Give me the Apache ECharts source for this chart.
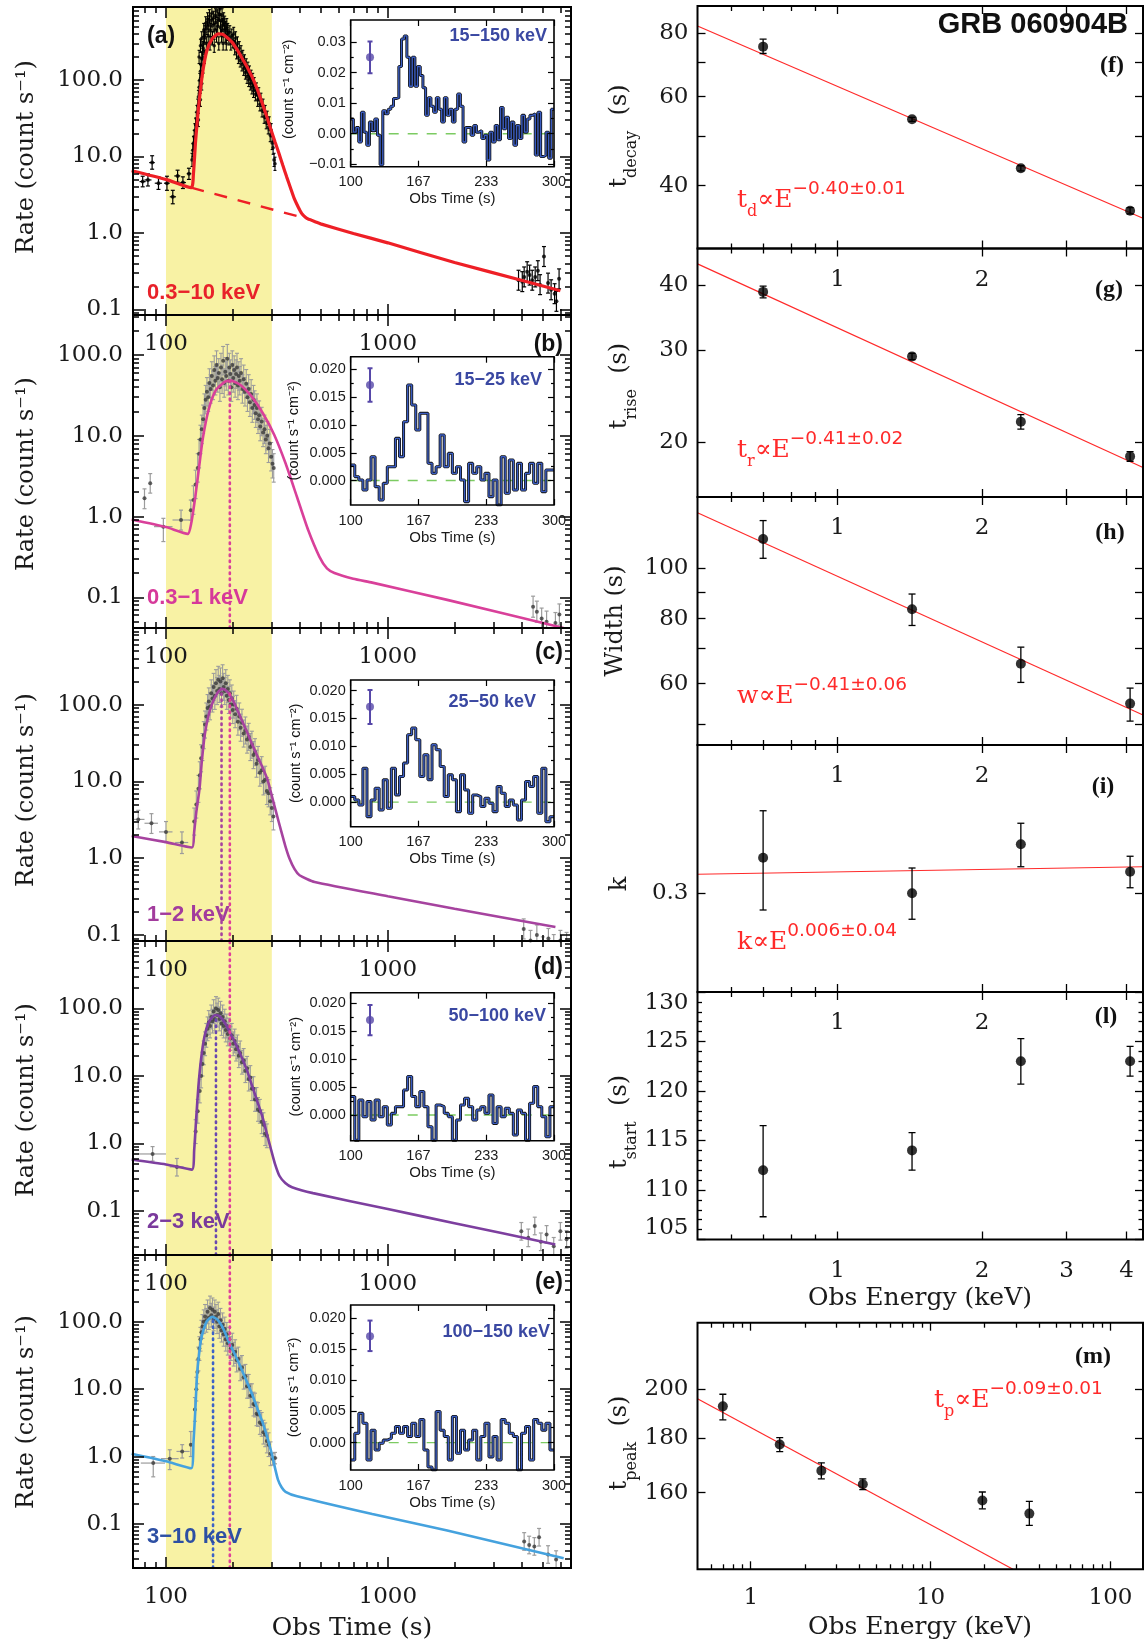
<!DOCTYPE html>
<html><head><meta charset="utf-8">
<script src="https://cdn.jsdelivr.net/npm/echarts@6/dist/echarts.min.js"></script>
<style>html,body{margin:0;padding:0;background:#fff}#c{width:1146px;height:1644px}</style>
</head><body><div id="c"></div>
<script>
// ================= DATA =================
const SHADE_RANGE = [100, 300];
const TIME_TICKS = [100, 1000];
const RATE_TICKS = [0.1, 1, 10, 100];
const PEAK_REF = 194;                 // 0.3-1 keV peak time (dotted magenta)
const PEAK_C = 178, PEAK_D = 168, PEAK_E = 163;

// panel (a) 0.3-10 keV
const A_MODEL = [[70,6.5],[100,5.0],[130,3.9],[133,6],[136,16],[140,42],[146,120],[153,245],[162,350],[172,400],[180,395],[186,370],[198,315],[210,245],[222,185],[236,135],[250,95],[265,61],[282,36],[298,22],[310,15.5],[323,11],[336,7.7],[350,5.4],[364,3.9],[378,2.85],[394,2.2],[409,1.8],[425,1.6],[442,1.5],[470,1.4],[498,1.31],[700,0.98],[1000,0.74],[2000,0.41],[4000,0.24],[6000,0.175]];
const A_DASH = [[130,3.9],[454,1.47]];
const A_BINNED = [[78.5,4.68,4.0,5.5,76,81],[82.9,4.92,4.1,5.9,80,86],[86.6,8.3,6.8,10.2,84,89],[92.5,4.46,3.7,5.4,89,96],[101,4.46,3.6,5.5,98,104],[107.3,2.96,2.4,3.6,104,111],[112.8,5.55,4.6,6.6,109,116],[119.2,4.55,3.8,5.4,116,123],[126.9,5.94,5.0,7.0,124,130]];
const A_CLOUD = [[131,9],[132,12],[133,15],[134,18],[135,22],[136,26],[137,31],[138,38],[139,46],[140,60],[140,30],[141,80],[141,200],[142,100],[143,130],[143,55],[143,280],[144,160],[145,190],[145,90],[145,350],[146,230],[147,260],[147,150],[148,300],[148,450],[149,200],[149,380],
[150,420],[151,550],[152,300],[153,480],[154,620],[155,380],[156,520],[157,680],[158,300],[159,450],[160,600],[161,750],[162,350],[163,520],[164,650],[165,280],[166,450],[167,700],[168,560],[169,380],[170,800],[171,500],[172,620],[173,300],[174,720],[175,850],[176,480],[177,600],[178,380],[179,700],[180,520],[181,300],[182,620],[183,450],[184,560],[185,380],[186,480],[187,300],[188,520],[189,400],[190,450],[192,350],[194,420],[196,300],[198,380],
[200,320],[202,400],[204,260],[206,350],[208,230],[210,300],[212,200],[214,260],[216,180],[218,230],[220,160],[222,200],[224,140],[226,175],[228,125],[230,155],[232,110],[234,140],[236,100],[238,125],[240,90],[242,110],[244,80],[246,100],[248,72],[250,88],[253,65],[256,75],[259,55],[262,65],[265,48],[268,55],[271,40],[274,46],[277,33],[280,38],[283,28],[286,32],[289,24],[292,27],[295,19],[298,22],[301,15],[304,13],[307,9],[310,8]];
const A_LATE = [[3886,0.24],[4040,0.23],[4120,0.265],[4250,0.31],[4360,0.28],[4480,0.24],[4620,0.265],[4750,0.32],[4860,0.21],[5060,0.49],[5280,0.22],[5450,0.18],[5650,0.16],[5760,0.127],[5920,0.25]];

// panel (b) 0.3-1 keV
const B_MODEL = [[70,0.92],[100,0.74],[125.4,0.61],[130,0.83],[135.6,1.77],[141,4.1],[146.6,9.3],[155.5,20.8],[168,36.9],[185,46.8],[196,48.1],[216.5,42.5],[243.5,30.5],[273.4,19.0],[307.5,10.3],[346,4.56],[389,1.77],[437.6,0.68],[492,0.317],[531.7,0.228],[574.6,0.20],[698.4,0.17],[851,0.152],[1854,0.093],[6200,0.0417]];
const B_BINNED = [[80,1.68,1.25,2.2],[84.9,2.58,1.95,3.4],[97.3,0.75,0.49,0.95,88.3,107],[116.9,0.906,0.68,1.2,107,127.8],[129.4,1.2,0.9,1.6]];
const B_CLOUD = [[133,1.6],[136,2.5],[139,4],[141,6],[143,9],[145,12],[147,16],[149,22],[151,28],[153,35],[155,30],[157,45],[159,38],[161,55],[163,42],[165,65],[167,48],[169,75],[171,52],[173,60],[175,40],[177,70],[179,50],[181,85],[183,45],[185,62],[187,55],[189,90],[191,48],[193,70],[195,58],[197,40],[199,75],[201,52],[203,65],[205,45],[207,58],[209,70],[211,42],[213,55],[215,48],[218,60],[221,38],[224,50],[227,35],[230,44],[233,30],[236,38],[239,26],[242,33],[245,22],[248,28],[251,24],[254,19],[257,22],[260,16],[263,18],[266,13],[270,15],[274,11],[278,12],[282,9],[286,10],[290,7],[294,8],[298,5.5],[302,4.5],[306,4]];
const B_LATE = [[4520,0.0765],[4700,0.0664],[4940,0.0545],[5200,0.05],[5700,0.048],[5940,0.0613]];

// panel (c) 1-2 keV
const C_MODEL = [[70,1.94],[100,1.62],[131,1.38],[134,2.2],[137,4],[141.6,8],[145,18],[149.5,40],[155,70],[161,100],[167,128],[173,150],[180,160],[188,150],[197,125],[207,93],[220,62],[232,44],[244,30.8],[260,20.5],[275,14.3],[287,10.5],[300,6.5],[315,3.8],[330,2.3],[345,1.45],[360,1.0],[380,0.72],[400,0.6],[468,0.49],[1000,0.32],[2000,0.22],[5700,0.127]];
const C_BINNED = [[75,3.2,2.4,4.2,70,80],[86,2.85,2.1,3.8,80,92],[100,2.2,1.6,3.0,93,107],[118,1.6,1.15,2.2,110,126]];
const C_CLOUD = [[134,3],[137,5],[140,8],[142,12],[144,20],[146,28],[148,40],[150,55],[152,70],[154,90],[156,110],[158,95],[160,140],[162,120],[164,170],[166,130],[168,190],[170,150],[172,210],[174,160],[176,200],[178,140],[180,220],[182,170],[184,150],[186,190],[188,130],[190,160],[192,115],[194,140],[196,100],[198,120],[200,85],[202,100],[205,75],[208,88],[211,60],[214,70],[217,50],[220,58],[224,42],[228,46],[232,35],[236,38],[240,28],[244,30],[248,22],[252,24],[256,17],[260,19],[265,13],[270,14],[275,10],[280,10.5],[285,7.5],[290,7],[295,5.5],[300,4.5],[305,3.5]];
const C_LATE = [[4100,0.12],[4400,0.085],[4700,0.1],[5000,0.07],[5300,0.09],[5600,0.075],[6000,0.085],[6400,0.08]];

// panel (d) 2-3 keV
const D_MODEL = [[70,0.58],[100,0.49],[131,0.41],[134,0.8],[137,2.5],[140,7],[144,18],[149,38],[155,60],[162,75],[168.5,80],[175,76],[185,60],[195,43],[205,31],[218,20],[232,12],[245,7],[258,4.2],[272,2.5],[285,1.4],[298,0.8],[310,0.5],[325,0.33],[345,0.26],[370,0.225],[460,0.184],[1000,0.107],[2000,0.066],[5690,0.032]];
const D_BINNED = [[87,0.7,0.55,0.9,75,100],[112,0.45,0.33,0.6,104,120]];
const D_CLOUD = [[136,1.5],[139,3],[142,6],[144,10],[146,15],[148,22],[150,30],[152,40],[154,50],[156,62],[158,55],[160,75],[162,65],[164,90],[166,70],[168,100],[170,80],[172,95],[174,70],[176,85],[178,60],[180,75],[182,55],[184,65],[186,48],[188,55],[190,42],[192,48],[195,36],[198,40],[201,30],[204,33],[207,25],[210,27],[213,20],[216,22],[220,16],[224,17],[228,12],[232,13],[236,9],[240,9.5],[244,6.5],[248,6.5],[252,4.5],[256,4.5],[260,3.2],[265,3],[270,2.1],[275,1.9],[280,1.4],[285,1.3]];
const D_LATE = [[4000,0.05],[4300,0.04],[4600,0.06],[4900,0.035],[5200,0.045],[5600,0.03],[6000,0.05],[6400,0.038]];

// panel (e) 3-10 keV
const E_MODEL = [[70,1.1],[100,0.85],[130,0.67],[133,1.6],[135.6,4.9],[138.2,17.2],[141,33],[143.7,53.5],[148,78],[152.4,100],[157,112],[161.6,118],[166,114],[171.4,106],[178,88],[185.3,67],[192,50],[200,38],[208,29],[216.5,21.6],[230,13.5],[243.5,8.7],[258,5.2],[273.4,3.1],[288,1.8],[302,1.0],[311,0.65],[320,0.45],[332,0.35],[346,0.30],[390,0.257],[851,0.14],[1854,0.08],[6210,0.031]];
const E_BINNED = [[87.6,0.8,0.5,1.0,77,99],[104,0.93,0.64,1.26,95,114],[118.3,1.19,0.95,1.5,111.5,127.8],[129.4,1.49,1.0,2.35],[303,0.92,0.75,1.12,296,312],[310,0.95,0.78,1.15,303,318]];
const E_CLOUD = [[135,5],[137,10],[138.5,18],[140,28],[141.5,40],[143,55],[144.5,70],[146,85],[148,100],[150,120],[152,105],[154,140],[156,115],[158,160],[160,125],[162,150],[164,110],[166,140],[168,120],[170,100],[172,130],[174,85],[176,105],[178,75],[180,90],[182,65],[184,78],[186,55],[188,65],[190,48],[193,55],[196,40],[199,45],[202,33],[205,36],[208,27],[212,28],[216,20],[220,21],[224,15],[228,15.5],[232,11],[236,11],[240,8],[244,8],[248,6],[252,5.8],[256,4.3],[260,4.2],[265,3.2],[270,3],[275,2.3],[280,2.1],[285,1.7],[290,1.5],[296,1.1]];
const E_LATE = [[4120,0.055],[4340,0.0487],[4580,0.0464],[4810,0.0635],[5280,0.0352],[5740,0.0296]];

// estimated fractional error bar sizes of the dense points
const ERR_A = 0.22, ERR_GRAY = 0.5, ERR_LATE = 0.35;

// BAT insets (count s^-1 cm^-2), bins between 100 and 300 s
const INSET_A = [0.0048,0.0005,0.002,-0.0027,0.007,0.0005,-0.0038,0.0038,0.001,0.0048,-0.0005,-0.0102,0.0075,0.0065,0.008,0.009,0.0115,0.0118,0.022,0.031,0.032,0.025,0.0155,0.025,0.0155,0.022,0.019,0.015,0.006,0.0118,0.009,0.007,0.0118,0.008,0.0038,0.0118,0.006,0.008,0.0038,0.008,0.013,0.009,-0.0027,0.002,0.002,-0.0005,0.0027,0.0005,0.001,-0.0016,-0.0005,-0.0086,0.0005,-0.0027,0.0027,-0.002,0.0086,0.0016,0.0054,-0.0016,0.0038,-0.0038,0.0027,-0.0016,0.006,0.0005,0.0048,0.006,0.0065,-0.007,0.007,-0.0075,-0.007,0.0005,-0.008,0.008];
const INSET_B = [0.0028,0.0007,0.0001,-0.0017,0.0001,0.0043,-0.0011,-0.0035,-0.0005,0.0025,0.0025,0.0076,0.0043,0.0106,0.0172,0.0136,0.0091,0.0121,0.0121,0.0031,0.0013,0.0025,0.0082,0.0025,0.0049,0.0013,0.0025,0.0001,-0.0038,0.0031,0.0013,0.0025,0.0001,0.0013,-0.0029,0.0001,-0.0044,0.0043,-0.0023,0.0037,-0.0017,0.0031,-0.0017,0.0013,0.0031,-0.0005,0.0031,-0.002,0.0019,0.0019];
const INSET_C = [0.001,0.0004,-0.0005,0.0061,-0.0026,0.0004,0.0025,-0.0014,0.004,-0.0011,0.0061,0.0013,0.0046,0.007,0.0121,0.0133,0.0112,0.0046,0.0085,0.004,0.0103,0.0094,0.0064,0.001,0.0049,0.004,-0.0017,0.0049,0.0022,-0.002,0.0013,0.001,-0.0008,0.0007,-0.0002,-0.0017,0.0028,0.0016,-0.0008,0.0004,-0.0005,-0.0032,0.0004,0.0037,0.0028,0.0046,-0.002,0.0061,-0.0035,-0.0026];
const INSET_D = [0.0033,-0.0045,0.0027,-0.0003,0.0024,-0.0009,0.0027,-0.0003,0.0015,-0.0018,0.0003,0.0015,0.0015,0.0045,0.0069,0.0033,0.0015,0.0042,0.0015,-0.0021,-0.0045,0.0018,0.0015,0.0003,-0.0003,-0.0045,-0.0009,0.0018,0.003,0.0015,-0.0009,0.0009,0.0015,0.0003,0.0036,-0.0015,0.0015,-0.0003,0.0012,0.0003,-0.0036,0.0009,0.0003,-0.0045,0.0021,0.0051,0.0015,-0.0003,-0.0039,0.0015];
const INSET_E = [-0.0028,0.0015,0.0047,0.0031,-0.0028,0.002,-0.0012,-0.0001,0.0004,0.0007,0.0015,0.0026,0.0015,0.0026,0.001,0.0031,0.001,0.0037,-0.0012,-0.0039,-0.0044,0.005,0.002,0.001,-0.0028,0.0042,-0.0017,0.002,-0.0012,0.0004,0.002,-0.0028,0.001,0.0031,-0.0023,0.001,-0.0028,0.0037,0.0031,0.0015,0.001,-0.0044,0.0015,0.0026,-0.0028,0.0037,0.0031,0.002,0.0031,-0.0012];
const INSET_ERRPT = [[119,0.025,0.0198,0.0302],[119,0.0172,0.0142,0.0202],[119,0.0171,0.014,0.0201],[119,0.017,0.0143,0.0197],[119,0.0171,0.0147,0.0196]];
const INSET_BANDS = ['15\u2212150 keV','15\u221225 keV','25\u221250 keV','50\u2212100 keV','100\u2212150 keV'];
const INSET_XTICKS = [100, 166.667, 233.333, 300];
const INSET_YTICKS_A = [-0.01, 0, 0.01, 0.02, 0.03];
const INSET_YTICKS = [0, 0.005, 0.01, 0.015, 0.02];

// right column: energy dependence
const E_XRT = [0.70, 1.43, 2.41, 4.07];
const T_DECAY = [75.3, 54.1, 43.3, 35.7], T_DECAY_LO = [73.0, 53.6, 42.8, 35.2], T_DECAY_HI = [77.9, 54.6, 43.8, 36.2];
const T_DECAY_FIT = [[0.511, 82.7], [4.33, 34.5]];
const T_RISE = [38.8, 29.2, 21.9, 18.8], T_RISE_LO = [37.8, 28.8, 21.2, 18.4], T_RISE_HI = [39.8, 29.6, 22.6, 19.2];
const T_RISE_FIT = [[0.511, 43.9], [4.33, 17.9]];
const WIDTH = [113.8, 83.4, 65.5, 54.9], WIDTH_LO = [104.5, 77.6, 60.3, 50.8], WIDTH_HI = [123.5, 89.2, 70.5, 58.8];
const WIDTH_FIT = [[0.511, 127.9], [4.33, 52.2]];
const K_IDX = [0.3142, 0.3, 0.3196, 0.3086], K_LO = [0.2933, 0.2896, 0.3106, 0.3022], K_HI = [0.333, 0.3101, 0.328, 0.3148];
const K_FIT = [[0.511, 0.3076], [4.33, 0.3106]];
const T_START = [112, 114, 123, 123], T_START_LO = [107.3, 112.0, 120.7, 121.5], T_START_HI = [116.5, 115.8, 125.3, 124.5];
const E_ALL = [0.70, 1.45, 2.47, 4.2, 19.4, 35.4];
const T_PEAK = [192.7, 177.5, 167.7, 162.9, 157.3, 152.9], T_PEAK_LO = [187.2, 174.8, 164.8, 161.0, 154.5, 149.1], T_PEAK_HI = [197.8, 180.1, 170.6, 164.8, 160.2, 157.0];
const T_PEAK_FIT = [[0.506, 195.9], [28.7, 135.6]];

// ================= STYLE / LAYOUT =================
const SERIF = 'DejaVu Serif', SANS = 'Liberation Sans';
const SHADE = '#f8f2a4', RED = '#ff2a2a';
const grids = [], xAxes = [], yAxes = [], series = [], texts = [];

function logMinors(min, max) {
  const out = [];
  for (let e = -3; e <= 4; e++) for (let k = 2; k <= 9; k++) {
    const v = +(k * Math.pow(10, e)).toPrecision(6);
    if (v > min && v < max) out.push(v);
  }
  return out;
}
function addGrid(l, t, w, h, bw) {
  grids.push({left: l, top: t, width: w, height: h, show: true, borderColor: '#000', borderWidth: bw,
    backgroundColor: 'transparent', z: 10, containLabel: false});
  return grids.length - 1;
}
function axes(dim, gi, o) {
  const list = dim === 'x' ? xAxes : yAxes;
  const sides = dim === 'x' ? ['bottom', 'top'] : ['left', 'right'];
  const idx = list.length;
  const mk = (side, ticks, len, lab) => {
    const a = {
      gridIndex: gi, type: o.type, min: o.min, max: o.max, position: side, z: 11, silent: true,
      axisLine: {show: false, onZero: false}, splitLine: {show: false},
      minorTick: {show: false}, minorSplitLine: {show: false},
      axisTick: {show: ticks.length > 0, inside: true, length: len, customValues: ticks.length ? ticks : undefined,
        lineStyle: {color: '#000', width: o.tw || 1.4}},
      axisLabel: {show: false}
    };
    if (o.type === 'log') a.logBase = 10;
    if (lab) {
      a.axisLabel = {show: true, customValues: lab, formatter: o.fmt, margin: o.margin,
        fontFamily: o.font, fontSize: o.fs, fontWeight: o.fw || 'normal', color: o.color || '#1a1a1a'};
      if (o.edgeAlign) { a.axisLabel.verticalAlignMinLabel = 'bottom'; a.axisLabel.verticalAlignMaxLabel = 'top'; }
      if (o.name) {
        a.name = o.name; a.nameLocation = 'middle'; a.nameGap = o.nameGap;
        a.nameTextStyle = {fontFamily: o.font, fontSize: o.nameFs, color: '#1a1a1a'};
      }
    }
    return a;
  };
  list.push(mk(sides[0], o.major, o.majLen, o.labels));
  list.push(mk(sides[1], o.major, o.majLen, null));
  if (o.minor && o.minor.length) {
    list.push(mk(sides[0], o.minor, o.minLen, null));
    list.push(mk(sides[1], o.minor, o.minLen, null));
  }
  return idx;
}
function lineS(xi, yi, data, color, width, z, extra) {
  series.push(Object.assign({type: 'line', xAxisIndex: xi, yAxisIndex: yi, data: data, symbol: 'none', showSymbol: false,
    silent: true, z: z, clip: true, lineStyle: {color: color, width: width}}, extra || {}));
}
function errS(xi, yi, data, color, width, capW, z) {
  const norm = data.map(d => [d[0], d[1], d[2], d[3], d.length > 5 ? d[4] : 0, d.length > 5 ? d[5] : 0]);
  series.push({type: 'custom', xAxisIndex: xi, yAxisIndex: yi, data: norm, z: z, silent: true, clip: true,
    encode: {x: 0, y: 1},
    renderItem: function (params, api) {
      const x = api.value(0), y = api.value(1), lo = api.value(2), hi = api.value(3), xl = api.value(4), xh = api.value(5);
      const a = api.coord([x, lo]), b = api.coord([x, hi]);
      const st = {stroke: color, lineWidth: width};
      const ch = [{type: 'line', shape: {x1: a[0], y1: a[1], x2: b[0], y2: b[1]}, style: st}];
      if (capW) {
        ch.push({type: 'line', shape: {x1: a[0] - capW / 2, y1: a[1], x2: a[0] + capW / 2, y2: a[1]}, style: st});
        ch.push({type: 'line', shape: {x1: b[0] - capW / 2, y1: b[1], x2: b[0] + capW / 2, y2: b[1]}, style: st});
      }
      if (xl > 0 && xh > 0) {
        const c = api.coord([xl, y]), d = api.coord([xh, y]);
        ch.push({type: 'line', shape: {x1: c[0], y1: c[1], x2: d[0], y2: d[1]}, style: st});
      }
      return {type: 'group', children: ch};
    }});
}
function dotS(xi, yi, data, color, size, z) {
  series.push({type: 'scatter', xAxisIndex: xi, yAxisIndex: yi, data: data.map(d => [d[0], d[1]]), symbol: 'circle',
    symbolSize: size, silent: true, z: z, clip: true, itemStyle: {color: color, borderWidth: 0}});
}
function txt(x, y, text, o) {
  const st = {text: text, x: 0, y: 0, fill: o.color || '#1a1a1a', fontFamily: o.font || SERIF, fontSize: o.fs || 24,
    fontWeight: o.fw || 'normal', align: o.align || 'center', textAlign: o.align || 'center',
    verticalAlign: 'middle', textVerticalAlign: 'middle'};
  if (o.rich) st.rich = o.rich;
  texts.push({type: 'text', x: x, y: y, rotation: o.rot || 0, z: 100, silent: true, style: st});
}
const relErr = (arr, f) => arr.map(d => [d[0], d[1], d[1] / (1 + f), d[1] * (1 + f)]);
const zipErr = (xs, ys, lo, hi) => xs.map((x, i) => [x, ys[i], lo[i], hi[i]]);

// ================= LEFT COLUMN =================
const XMIN = 71, XMAX = 6700;
const XMINOR = logMinors(XMIN, XMAX);
const LBOX = [[7, 308], [315, 313], [628, 313], [941, 314], [1255, 313]];
const LYR = [[0.0842, 900], [0.0417, 312.6], [0.0835, 994], [0.0223, 1000], [0.0222, 977]];
const LEFT = [
  {model: A_MODEL, color: '#ee1f26', lw: 3.2, cloud: A_CLOUD, err: ERR_A, dot: '#000', bar: '#000', bin: A_BINNED, late: A_LATE, label: '0.3\u221210 keV', lc: '#e8222a'},
  {model: B_MODEL, color: '#d9409a', lw: 2.6, cloud: B_CLOUD, err: ERR_GRAY, dot: '#3a3a3a', bar: '#9c9c9c', bin: B_BINNED, late: B_LATE, label: '0.3\u22121 keV', lc: '#d6399a'},
  {model: C_MODEL, color: '#a6439f', lw: 2.6, cloud: C_CLOUD, err: ERR_GRAY, dot: '#3a3a3a', bar: '#9c9c9c', bin: C_BINNED, late: C_LATE, label: '1\u22122 keV', lc: '#a23c9d'},
  {model: D_MODEL, color: '#7d3f9f', lw: 2.6, cloud: D_CLOUD, err: ERR_GRAY, dot: '#3a3a3a', bar: '#9c9c9c', bin: D_BINNED, late: D_LATE, label: '2\u22123 keV', lc: '#7a3a9c'},
  {model: E_MODEL, color: '#45a2de', lw: 2.6, cloud: E_CLOUD, err: ERR_GRAY, dot: '#3a3a3a', bar: '#9c9c9c', bin: E_BINNED, late: E_LATE, label: '3\u221210 keV', lc: '#2d4fa3'}
];
const LETTER_Y = [37, 345, 653, 968, 1283];
const BAND_Y = [293, 598, 915, 1222, 1537];
const TITLE_Y = [157, 474, 790, 1100, 1412];

LEFT.forEach((s, i) => {
  const gi = addGrid(133, LBOX[i][0], 438, LBOX[i][1], 2);
  const yr = LYR[i];
  const xi = axes('x', gi, {type: 'log', min: XMIN, max: XMAX, major: TIME_TICKS, minor: XMINOR, labels: TIME_TICKS,
    fmt: v => String(Math.round(v)), majLen: 11, minLen: 6, margin: 18, font: SERIF, fs: 23, tw: 1.5});
  const yi = axes('y', gi, {type: 'log', min: yr[0], max: yr[1], major: RATE_TICKS, minor: logMinors(yr[0], yr[1]),
    labels: RATE_TICKS, fmt: v => v.toFixed(1), majLen: 11, minLen: 6, margin: 10, font: SERIF, fs: 23, tw: 1.5});
  // yellow window
  lineS(xi, yi, [[SHADE_RANGE[0], yr[0]], [SHADE_RANGE[1], yr[0]]], 'rgba(0,0,0,0)', 0, 1,
    {markArea: {silent: true, itemStyle: {color: SHADE}, data: [[{xAxis: SHADE_RANGE[0]}, {xAxis: SHADE_RANGE[1]}]]}});
  // data
  errS(xi, yi, relErr(s.cloud, s.err), s.bar, 1.1, i === 0 ? 3 : 4, 2);
  errS(xi, yi, s.bin, s.bar, 1.2, 4, 2);
  errS(xi, yi, relErr(s.late, ERR_LATE), s.bar, 1.2, 4, 2);
  dotS(xi, yi, s.cloud, s.dot, i === 0 ? 3.6 : 4, 3);
  dotS(xi, yi, s.bin, s.dot, 4, 3);
  dotS(xi, yi, s.late, s.dot, 4, 3);
  // model
  lineS(xi, yi, s.model, s.color, s.lw, 4, {smooth: 0.2});
  if (i === 0) lineS(xi, yi, A_DASH, s.color, 2.4, 4, {lineStyle: {color: s.color, width: 2.4, type: [13, 11]}});
  const dotted = (t, y0, y1, c) => lineS(xi, yi, [[t, y0], [t, y1]], c, 2.6, 5, {lineStyle: {color: c, width: 2.6, type: [1.5, 4.5], cap: 'round'}});
  if (i === 1) dotted(PEAK_REF, yr[0], 48, '#d9409a');
  if (i === 2) { dotted(PEAK_C, yr[0], 160, '#a6439f'); dotted(PEAK_REF, yr[0], 150, '#e0409a'); }
  if (i === 3) { dotted(PEAK_D, yr[0], 80, '#6a48b0'); dotted(PEAK_REF, yr[0], yr[1], '#e0409a'); }
  if (i === 4) { dotted(PEAK_E, yr[0], 118, '#3c62c8'); dotted(PEAK_REF, yr[0], yr[1], '#e0409a'); }
  // texts
  txt(27, TITLE_Y[i], 'Rate (count s\u207B\u00B9)', {rot: Math.PI / 2, fs: 24, font: SERIF});
  txt(147, BAND_Y[i], s.label, {align: 'left', font: SANS, fw: 'bold', fs: 22, color: s.lc});
  if (i === 0) txt(147, LETTER_Y[0], '(a)', {align: 'left', font: SANS, fw: 'bold', fs: 23, color: '#111'});
  else txt(563, LETTER_Y[i], '(' + 'abcde'[i] + ')', {align: 'right', font: SANS, fw: 'bold', fs: 23, color: '#111'});
});
txt(352, 1628, 'Obs Time (s)', {fs: 25, font: SERIF});

// ---------- insets ----------
const IBOX = [[20, 146.7], [356.7, 148.3], [680, 146.7], [992.7, 148], [1305, 165]];
const IYR = [[-0.0108, 0.0372], [-0.0044, 0.0223], [-0.0044, 0.0219], [-0.0046, 0.0219], [-0.0044, 0.0221]];
const IHIST = [INSET_A, INSET_B, INSET_C, INSET_D, INSET_E];
const ILAB_X = [547, 542, 536, 546, 550];
const ILAB_Y = [36, 380, 702, 1016, 1332];
const INAME_X = [289, 294, 296, 296, 294];
IHIST.forEach((h, i) => {
  const gi = addGrid(350.7, IBOX[i][0], 203.3, IBOX[i][1], 1.6);
  const yr = IYR[i];
  const yt = i === 0 ? INSET_YTICKS_A : INSET_YTICKS;
  const ym = [];
  for (let k = 0; k < yt.length - 1; k++) ym.push(+((yt[k] + yt[k + 1]) / 2).toFixed(5));
  const xi = axes('x', gi, {type: 'value', min: 100, max: 300, major: INSET_XTICKS, minor: [], labels: INSET_XTICKS,
    fmt: v => String(Math.round(v)), majLen: 6, minLen: 3, margin: 8, font: SANS, fs: 14.5, tw: 1.2,
    name: 'Obs Time (s)', nameGap: 25, nameFs: 15});
  const yi = axes('y', gi, {type: 'value', min: yr[0], max: yr[1], major: yt, minor: ym, labels: yt,
    fmt: v => (i === 0 ? v.toFixed(2) : v.toFixed(3)).replace('-', '\u2212'), majLen: 6, minLen: 3, margin: 5,
    font: SANS, fs: 14.5, tw: 1.2});
  const dw = (SHADE_RANGE[1] - SHADE_RANGE[0]) / h.length;
  const hd = h.map((v, k) => [SHADE_RANGE[0] + k * dw, v]);
  hd.push([SHADE_RANGE[1], h[h.length - 1]]);
  lineS(xi, yi, [[100, 0], [300, 0]], '#7ccb62', 1.4, 2, {lineStyle: {color: '#7ccb62', width: 1.4, type: [10, 9]}});
  lineS(xi, yi, hd, '#111', 3.0, 3, {step: 'end'});
  lineS(xi, yi, hd, '#3a5cc0', 1.4, 4, {step: 'end'});
  errS(xi, yi, [INSET_ERRPT[i]], '#5647a8', 2, 5, 5);
  dotS(xi, yi, [INSET_ERRPT[i]], '#5647a8', 8, 6);
  txt(ILAB_X[i], ILAB_Y[i], INSET_BANDS[i], {align: 'right', font: SANS, fw: 'bold', fs: 18, color: '#3a48a2'});
  txt(INAME_X[i], IBOX[i][0] + IBOX[i][1] / 2 - (i === 0 ? 4 : 0), '(count s\u207B\u00B9 cm\u207B\u00B2)',
    {rot: Math.PI / 2, font: SANS, fs: 14.5, color: '#111'});
});

// ================= RIGHT COLUMN =================
const RX = 697.5, RW = 445.5;
const EXMIN = 0.511, EXMAX = 4.33;
const RBOX = [[6, 242.5], [248.5, 248.5], [497, 248], [745, 247], [992, 247.5]];
const RIGHT = [
  {pts: zipErr(E_XRT, T_DECAY, T_DECAY_LO, T_DECAY_HI), fit: T_DECAY_FIT, yr: [30.06, 90.6], ymaj: [40, 50, 60, 70, 80], ylab: [40, 60, 80], ymin: []},
  {pts: zipErr(E_XRT, T_RISE, T_RISE_LO, T_RISE_HI), fit: T_RISE_FIT, yr: [15.72, 46.97], ymaj: [20, 30, 40], ylab: [20, 30, 40], ymin: []},
  {pts: zipErr(E_XRT, WIDTH, WIDTH_LO, WIDTH_HI), fit: WIDTH_FIT, yr: [45.7, 137.1], ymaj: [50, 60, 70, 80, 90, 100], ylab: [60, 80, 100], ymin: []},
  {pts: zipErr(E_XRT, K_IDX, K_LO, K_HI), fit: K_FIT, yr: [0.2605, 0.3593], ymaj: [0.3], ylab: [0.3], ymin: []},
  {pts: zipErr(E_XRT, T_START, T_START_LO, T_START_HI), fit: null, yr: [105, 130], ymaj: [105, 110, 115, 120, 125, 130], ylab: [105, 110, 115, 120, 125, 130],
   ymin: [106,107,108,109,111,112,113,114,116,117,118,119,121,122,123,124,126,127,128,129]}
];
RIGHT.forEach((s, i) => {
  const gi = addGrid(RX, RBOX[i][0], RW, RBOX[i][1], 2);
  const xi = axes('x', gi, {type: 'log', min: EXMIN, max: EXMAX, major: [1, 2, 3, 4], minor: [0.6, 0.7, 0.8, 0.9],
    labels: i === 4 ? [1, 2, 3, 4] : [1, 2], fmt: v => String(Math.round(v)), majLen: 8, minLen: 5, margin: 20, font: SERIF, fs: 23, tw: 1.3});
  const yi = axes('y', gi, {type: (i >= 3) ? 'value' : 'log', min: s.yr[0], max: s.yr[1], major: s.ymaj, minor: s.ymin,
    labels: s.ylab, fmt: v => String(v), majLen: 8, minLen: 4.5, margin: 9, font: SERIF, fs: 23, tw: 1.3, edgeAlign: i === 4});
  if (s.fit) lineS(xi, yi, s.fit, RED, 1.2, 3);
  errS(xi, yi, s.pts, '#000', 1.3, 7, 4);
  dotS(xi, yi, s.pts, '#000', 10, 5);
});
// (m)
{
  const gi = addGrid(RX, 1322.7, RW, 246.6, 2);
  const xi = axes('x', gi, {type: 'log', min: 0.506, max: 151.7, major: [1, 10, 100], minor: logMinors(0.506, 151.7),
    labels: [1, 10, 100], fmt: v => String(Math.round(v)), majLen: 8, minLen: 5, margin: 17, font: SERIF, fs: 23, tw: 1.3});
  const yi = axes('y', gi, {type: 'log', min: 135.6, max: 230.8, major: [160, 180, 200], minor: [],
    labels: [160, 180, 200], fmt: v => String(v), majLen: 8, minLen: 4.5, margin: 9, font: SERIF, fs: 23, tw: 1.3});
  lineS(xi, yi, T_PEAK_FIT, RED, 1.2, 3);
  const pts = zipErr(E_ALL, T_PEAK, T_PEAK_LO, T_PEAK_HI);
  errS(xi, yi, pts, '#000', 1.3, 7, 4);
  dotS(xi, yi, pts, '#000', 10, 5);
}
// right texts
const RT = {m: {fontFamily: SERIF, fontSize: 24, fill: '#1a1a1a', lineHeight: 40},
            s: {fontFamily: SERIF, fontSize: 16, fill: '#1a1a1a', verticalAlign: 'bottom', lineHeight: 18}};
txt(620, 136, '{m|t}{s|decay}{m|  (s)}', {rot: Math.PI / 2, rich: RT});
txt(620, 386, '{m|t}{s|rise}{m|  (s)}', {rot: Math.PI / 2, rich: RT});
txt(616, 621, 'Width (s)', {rot: Math.PI / 2, fs: 24});
txt(620, 884, 'k', {rot: Math.PI / 2, fs: 24});
txt(620, 1122, '{m|t}{s|start}{m|  (s)}', {rot: Math.PI / 2, rich: RT});
txt(620, 1443, '{m|t}{s|peak}{m|  (s)}', {rot: Math.PI / 2, rich: RT});
const RA = {m: {fontFamily: SERIF, fontSize: 25, fill: RED, lineHeight: 40},
            s: {fontFamily: SERIF, fontSize: 16, fill: RED, verticalAlign: 'bottom', lineHeight: 18},
            p: {fontFamily: 'DejaVu Sans', fontSize: 18.5, fill: RED, verticalAlign: 'top', lineHeight: 19}};
txt(737, 200, '{m|t}{s|d}{m|\u221DE}{p|\u22120.40\u00B10.01}', {align: 'left', rich: RA});
txt(737, 450, '{m|t}{s|r}{m|\u221DE}{p|\u22120.41\u00B10.02}', {align: 'left', rich: RA});
txt(737, 696, '{m|w\u221DE}{p|\u22120.41\u00B10.06}', {align: 'left', rich: RA});
txt(737, 942, '{m|k\u221DE}{p|0.006\u00B10.04}', {align: 'left', rich: RA});
txt(934, 1400, '{m|t}{s|p}{m|\u221DE}{p|\u22120.09\u00B10.01}', {align: 'left', rich: RA});
txt(1128, 25, 'GRB 060904B', {align: 'right', font: SANS, fw: 'bold', fs: 29, color: '#111'});
const RL = [['(f)', 1112, 66], ['(g)', 1109, 290], ['(h)', 1110, 533], ['(i)', 1103, 787], ['(l)', 1106, 1017], ['(m)', 1093, 1357]];
RL.forEach(r => txt(r[1], r[2], r[0], {font: 'Liberation Serif', fw: 'bold', fs: 24, color: '#111'}));
txt(920, 1298, 'Obs Energy (keV)', {fs: 25});
txt(920, 1627, 'Obs Energy (keV)', {fs: 25});

const chart = echarts.init(document.getElementById('c'), null, {renderer: 'canvas'});
chart.setOption({animation: false, backgroundColor: '#fff', grid: grids, xAxis: xAxes, yAxis: yAxes, series: series,
  graphic: {elements: texts}});
</script></body></html>
